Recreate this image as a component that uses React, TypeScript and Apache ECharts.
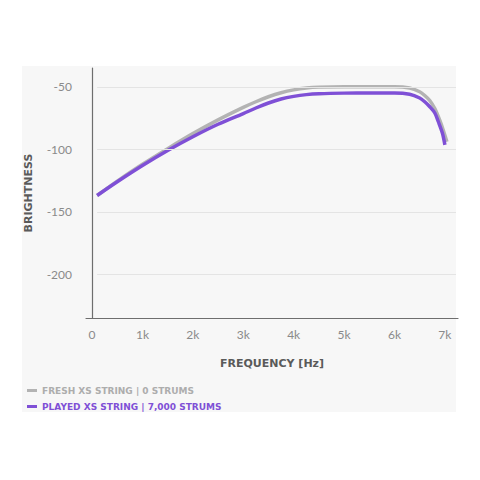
import React, { useEffect, useRef } from "react";
import * as echarts from "echarts";

const freshFreq = [100, 500, 1000, 1500, 2000, 2500, 3000, 3250, 3500, 3750, 4000, 4250, 4500, 5000, 5500, 6000, 6300, 6500, 6600, 6700, 6800, 6900, 6970, 7040];
const freshValues = [-137, -125.5, -112, -99.5, -87.5, -76.5, -66.5, -62, -58, -54.8, -52.5, -51, -50.3, -50, -50, -50, -51, -54, -57, -61, -67.5, -77, -85, -94];
const playedFreq = [100, 500, 1000, 1500, 2000, 2500, 3000, 3250, 3500, 3750, 4000, 4250, 4500, 5000, 5500, 6000, 6300, 6500, 6600, 6700, 6800, 6870, 6950, 7000];
const playedValues = [-137, -126, -113, -101, -90, -80, -71.5, -67, -63, -59.8, -57.7, -56.3, -55.6, -55.1, -55, -55, -56, -59, -62, -66, -71, -78, -87, -96.5];
const xTicks = [0, 1000, 2000, 3000, 4000, 5000, 6000, 7000];
const yTicks = [-200, -150, -100, -50];
const seriesNames = ["FRESH XS STRING | 0 STRUMS", "PLAYED XS STRING | 7,000 STRUMS"];

const GRAY = "#b3b3b3";
const PURPLE = "#7f50d6";

export default function App() {
  const ref = useRef<HTMLDivElement>(null);
  useEffect(() => {
    if (!ref.current) return;
    const chart = echarts.init(ref.current, null, { renderer: "svg" });
    chart.setOption({
      animation: false,
      backgroundColor: "#ffffff",
      graphic: [
        {
          type: "rect",
          z: -10,
          shape: { x: 22, y: 66, width: 434, height: 346 },
          style: { fill: "#f7f7f7" },
          silent: true,
        },
      ],
      grid: { left: 86, right: 22, top: 68, bottom: 162 },
      legend: {
        orient: "vertical",
        left: 22,
        top: 381,
        icon: "rect",
        itemWidth: 10,
        itemHeight: 3,
        itemGap: 7,
        textStyle: { fontFamily: "DejaVu Sans", fontSize: 9, fontWeight: "bold" },
        data: [
          { name: seriesNames[0], textStyle: { color: "#adadad" } },
          { name: seriesNames[1], textStyle: { color: PURPLE } },
        ],
      },
      xAxis: {
        type: "value",
        min: -120,
        max: 7260,
        name: "FREQUENCY [Hz]",
        nameLocation: "middle",
        nameGap: 40,
        nameTextStyle: { fontFamily: "DejaVu Sans", fontSize: 11, fontWeight: "bold", color: "#5a5a5a" },
        axisLine: { show: true, lineStyle: { color: "#6e6e6e", width: 1.2 } },
        axisTick: { show: false },
        splitLine: { show: false },
        axisLabel: {
          customValues: xTicks,
          color: "#8a8a8a",
          fontFamily: "Lato",
          fontSize: 12,
          margin: 10,
          formatter: (v: number) => (v === 0 ? "0" : v / 1000 + "k"),
        },
      },
      yAxis: {
        type: "value",
        min: -235,
        max: -35,
        name: "BRIGHTNESS",
        nameLocation: "middle",
        nameGap: 52,
        nameTextStyle: { fontFamily: "DejaVu Sans", fontSize: 11, fontWeight: "bold", color: "#5a5a5a" },
        axisLine: { show: true, lineStyle: { color: "#6e6e6e", width: 1.2 } },
        axisTick: { show: false },
        splitLine: { show: false },
        axisLabel: {
          customValues: yTicks,
          color: "#8a8a8a",
          fontFamily: "Lato",
          fontSize: 12,
          margin: 14,
        },
      },
      series: [
        {
          name: seriesNames[0],
          type: "line",
          smooth: 0.3,
          showSymbol: false,
          color: GRAY,
          lineStyle: { color: GRAY, width: 3.5 },
          data: freshFreq.map((f, i) => [f, freshValues[i]]),
          markLine: {
            silent: true,
            symbol: "none",
            label: { show: false },
            lineStyle: { color: "#e4e4e4", width: 1, type: "solid" },
            data: yTicks.map((v) => [
              { coord: [100, v] },
              { coord: [7220, v] },
            ]),
          },
          z: 2,
        },
        {
          name: seriesNames[1],
          type: "line",
          smooth: 0.3,
          showSymbol: false,
          color: PURPLE,
          lineStyle: { color: PURPLE, width: 3.5 },
          data: playedFreq.map((f, i) => [f, playedValues[i]]),
          z: 3,
        },
      ],
    });
    return () => chart.dispose();
  }, []);
  return (
    <div
      ref={ref}
      style={{ position: "fixed", left: 0, top: 0, width: 480, height: 480 }}
    />
  );
}
